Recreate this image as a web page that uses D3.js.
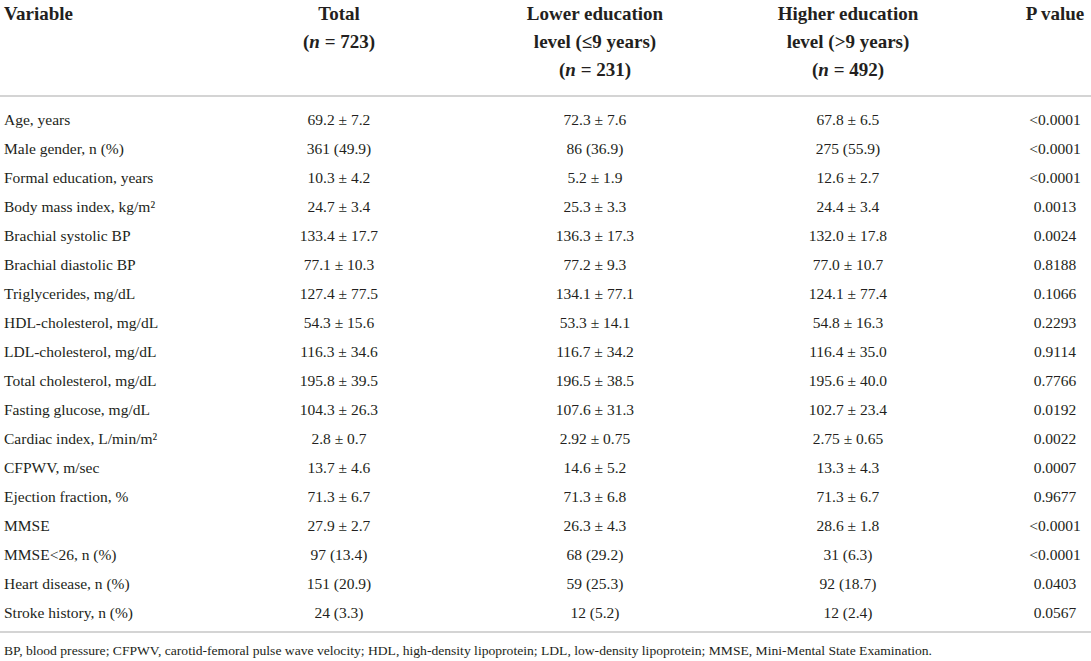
<!DOCTYPE html>
<html>

<head>
  <meta charset="utf-8">
  <title>education-table</title>
  <style>
    * {
      padding: 0;
      margin: 0;
    }

    html,
    body {
      width: 100%;
      height: 100%;
      background: #fff;
    }

    svg text {
      font-family: "Liberation Serif", "DejaVu Serif", serif;
      fill: #231f20;
    }

    .head {
      font-weight: bold;
      font-size: 19px;
    }

    .cell {
      font-size: 15.5px;
    }
  </style>
</head>

<body>
  <svg id="svg"></svg>
  <script src="https://cdnjs.cloudflare.com/ajax/libs/d3/7.8.5/d3.min.js"></script>
  <script>
    const variables = [
      'Age, years', 'Male gender, n (%)', 'Formal education, years', 'Body mass index, kg/m\u00b2',
      'Brachial systolic BP', 'Brachial diastolic BP', 'Triglycerides, mg/dL', 'HDL-cholesterol, mg/dL',
      'LDL-cholesterol, mg/dL', 'Total cholesterol, mg/dL', 'Fasting glucose, mg/dL', 'Cardiac index, L/min/m\u00b2',
      'CFPWV, m/sec', 'Ejection fraction, %', 'MMSE', 'MMSE<26, n (%)', 'Heart disease, n (%)', 'Stroke history, n (%)'
    ];
    const totalVals = [
      '69.2 ± 7.2', '361 (49.9)', '10.3 ± 4.2', '24.7 ± 3.4', '133.4 ± 17.7', '77.1 ± 10.3',
      '127.4 ± 77.5', '54.3 ± 15.6', '116.3 ± 34.6', '195.8 ± 39.5', '104.3 ± 26.3', '2.8 ± 0.7',
      '13.7 ± 4.6', '71.3 ± 6.7', '27.9 ± 2.7', '97 (13.4)', '151 (20.9)', '24 (3.3)'
    ];
    const lowerVals = [
      '72.3 ± 7.6', '86 (36.9)', '5.2 ± 1.9', '25.3 ± 3.3', '136.3 ± 17.3', '77.2 ± 9.3',
      '134.1 ± 77.1', '53.3 ± 14.1', '116.7 ± 34.2', '196.5 ± 38.5', '107.6 ± 31.3', '2.92 ± 0.75',
      '14.6 ± 5.2', '71.3 ± 6.8', '26.3 ± 4.3', '68 (29.2)', '59 (25.3)', '12 (5.2)'
    ];
    const higherVals = [
      '67.8 ± 6.5', '275 (55.9)', '12.6 ± 2.7', '24.4 ± 3.4', '132.0 ± 17.8', '77.0 ± 10.7',
      '124.1 ± 77.4', '54.8 ± 16.3', '116.4 ± 35.0', '195.6 ± 40.0', '102.7 ± 23.4', '2.75 ± 0.65',
      '13.3 ± 4.3', '71.3 ± 6.7', '28.6 ± 1.8', '31 (6.3)', '92 (18.7)', '12 (2.4)'
    ];
    const pValues = [
      '<0.0001', '<0.0001', '<0.0001', '0.0013', '0.0024', '0.8188', '0.1066', '0.2293', '0.9114',
      '0.7766', '0.0192', '0.0022', '0.0007', '0.9677', '<0.0001', '<0.0001', '0.0403', '0.0567'
    ];
    const columns = ['variable', 'total', 'lower', 'higher', 'p'];
    // header lines per column; [text, italic] pieces
    const headers = [
      [[['Variable', false]]],
      [[['Total', false]], [['(', false], ['n', true], [' = 723)', false]]],
      [[['Lower education', false]], [['level (≤9 years)', false]], [['(', false], ['n', true], [' = 231)', false]]],
      [[['Higher education', false]], [['level (>9 years)', false]], [['(', false], ['n', true], [' = 492)', false]]],
      [[['P value', false]]]
    ];
    const footnote = 'BP, blood pressure; CFPWV, carotid-femoral pulse wave velocity; HDL, high-density lipoprotein; LDL, low-density lipoprotein; MMSE, Mini-Mental State Examination.';

    const width = 1091, height = 661;
    const svg = d3.select('#svg').attr('width', width).attr('height', height);

    const xScale = d3.scaleOrdinal().domain(columns).range([4, 339, 595, 848, 1055]);
    const yScale = d3.scalePoint().domain(variables).range([120, 613]);
    const headY = d3.scaleLinear().domain([0, 2]).range([13, 69]);

    const rows = variables.map((v, i) => [v, totalVals[i], lowerVals[i], higherVals[i], pValues[i]]);

    // header
    const head = svg.append('g').attr('id', 'header');
    headers.forEach((lines, c) => {
      lines.forEach((pieces, l) => {
        const t = head.append('text')
          .attr('class', 'head')
          .attr('x', xScale(columns[c]))
          .attr('y', headY(l))
          .attr('dy', '0.35em')
          .attr('text-anchor', c === 0 ? 'start' : 'middle');
        t.selectAll('tspan')
          .data(pieces)
          .enter()
          .append('tspan')
          .style('font-style', d => d[1] ? 'italic' : 'normal')
          .text(d => d[0]);
      });
    });

    // rules
    svg.append('g')
      .selectAll('line')
      .data([96, 632])
      .enter()
      .append('line')
      .attr('x1', 0)
      .attr('x2', width)
      .attr('y1', d => d)
      .attr('y2', d => d)
      .style('stroke', '#d4d4d4')
      .style('stroke-width', 2);

    // body
    const body = svg.append('g').attr('id', 'body');
    body.selectAll('g')
      .data(rows)
      .enter()
      .append('g')
      .attr('transform', d => `translate(0, ${yScale(d[0])})`)
      .selectAll('text')
      .data(d => d)
      .enter()
      .append('text')
      .attr('class', 'cell')
      .attr('x', (d, i) => xScale(columns[i]))
      .attr('dy', '0.35em')
      .attr('text-anchor', (d, i) => i === 0 ? 'start' : 'middle')
      .text(d => d);

    svg.append('text')
      .attr('x', 4)
      .attr('y', 650)
      .attr('dy', '0.35em')
      .attr('textLength', 928)
      .attr('lengthAdjust', 'spacingAndGlyphs')
      .style('font-size', '13.5px')
      .text(footnote);
  </script>

</body>

</html>
